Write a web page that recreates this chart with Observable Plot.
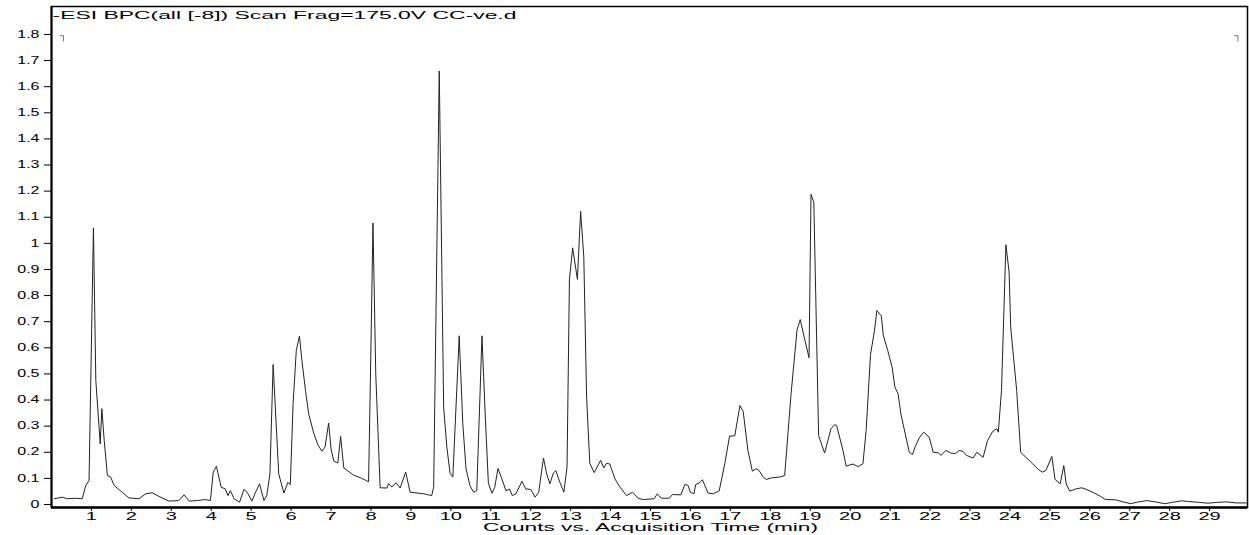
<!DOCTYPE html>
<html>
<head>
<meta charset="utf-8">
<script src="https://cdn.jsdelivr.net/npm/d3@7"></script>
<script src="https://cdn.jsdelivr.net/npm/@observablehq/plot@0.6"></script>
<style>
  html, body { margin: 0; padding: 0; background: #fff; }
  svg { display: block; }
</style>
</head>
<body>
<div id="chart"></div>
<script>
// Acquisition time (min)
const time = [
  0.07, 0.27, 0.40, 0.60, 0.77, 0.86, 0.94, 1.05, 1.11, 1.22, 1.26, 1.32, 1.40, 1.48, 1.57, 1.77, 1.94,
  2.19, 2.36, 2.52, 2.69, 2.94, 3.19, 3.32, 3.45, 3.65, 3.85, 3.98, 4.05, 4.13, 4.25, 4.35, 4.42, 4.48,
  4.57, 4.71, 4.82, 4.90, 5.02, 5.11, 5.21, 5.32, 5.39, 5.47, 5.55, 5.69, 5.82, 5.92, 5.98, 6.05, 6.13,
  6.21, 6.27, 6.36, 6.44, 6.57, 6.67, 6.77, 6.85, 6.94, 7.00, 7.07, 7.17, 7.24, 7.32, 7.45, 7.57, 7.73,
  7.86, 7.94, 7.98, 8.05, 8.12, 8.23, 8.40, 8.44, 8.52, 8.63, 8.73, 8.87, 8.98, 9.10, 9.32, 9.52, 9.57,
  9.71, 9.82, 9.90, 9.98, 10.05, 10.21, 10.30, 10.38, 10.48, 10.57, 10.65, 10.78, 10.86, 10.94, 11.03,
  11.10, 11.18, 11.27, 11.38, 11.47, 11.54, 11.63, 11.78, 11.88, 12.00, 12.11, 12.20, 12.32, 12.40,
  12.48, 12.57, 12.63, 12.73, 12.83, 12.91, 12.97, 13.05, 13.17, 13.25, 13.33, 13.40, 13.48, 13.59,
  13.75, 13.83, 13.90, 13.98, 14.11, 14.22, 14.40, 14.55, 14.69, 14.82, 15.09, 15.17, 15.27, 15.47,
  15.55, 15.76, 15.86, 15.94, 16.00, 16.09, 16.13, 16.22, 16.30, 16.44, 16.57, 16.72, 16.86, 16.98,
  17.11, 17.24, 17.32, 17.44, 17.55, 17.65, 17.72, 17.82, 17.90, 18.03, 18.23, 18.36, 18.52, 18.67,
  18.75, 18.85, 18.97, 19.02, 19.09, 19.21, 19.36, 19.52, 19.61, 19.66, 19.82, 19.90, 20.07, 20.20,
  20.32, 20.40, 20.51, 20.61, 20.67, 20.78, 20.83, 20.94, 21.05, 21.12, 21.20, 21.27, 21.37, 21.48,
  21.56, 21.63, 21.73, 21.84, 21.98, 22.08, 22.21, 22.27, 22.40, 22.52, 22.64, 22.73, 22.83, 22.91,
  23.08, 23.17, 23.33, 23.44, 23.57, 23.67, 23.71, 23.79, 23.90, 23.98, 24.02, 24.17, 24.27, 24.40,
  24.57, 24.69, 24.81, 24.90, 25.05, 25.13, 25.26, 25.35, 25.41, 25.50, 25.66, 25.80, 25.93, 26.10,
  26.27, 26.40, 26.65, 26.81, 27.02, 27.19, 27.43, 27.68, 27.88, 28.09, 28.30, 28.50, 28.75, 28.96,
  29.17, 29.42, 29.67, 29.92
];

// Counts, as labelled on the y axis
const counts = [
  0.022, 0.028, 0.022, 0.024, 0.022, 0.073, 0.092, 1.059, 0.475, 0.232, 0.367, 0.245, 0.111, 0.105, 0.073, 0.047, 0.025,
  0.022, 0.041, 0.045, 0.031, 0.013, 0.015, 0.037, 0.013, 0.015, 0.019, 0.015, 0.124, 0.146, 0.066, 0.060, 0.034, 0.053,
  0.022, 0.009, 0.058, 0.047, 0.013, 0.047, 0.079, 0.015, 0.034, 0.117, 0.536, 0.117, 0.044, 0.085, 0.076, 0.386, 0.590,
  0.645, 0.552, 0.437, 0.347, 0.271, 0.229, 0.204, 0.220, 0.312, 0.213, 0.166, 0.159, 0.261, 0.140, 0.125, 0.112, 0.103,
  0.093, 0.087, 0.424, 1.078, 0.500, 0.064, 0.063, 0.080, 0.067, 0.083, 0.063, 0.124, 0.047, 0.045, 0.041, 0.034, 0.066,
  1.660, 0.373, 0.220, 0.120, 0.105, 0.646, 0.309, 0.137, 0.072, 0.047, 0.053, 0.646, 0.347, 0.082, 0.043,
  0.066, 0.138, 0.102, 0.053, 0.059, 0.034, 0.041, 0.089, 0.059, 0.058, 0.028, 0.047, 0.178, 0.117,
  0.079, 0.121, 0.130, 0.085, 0.047, 0.143, 0.862, 0.983, 0.862, 1.123, 0.948, 0.411, 0.158, 0.122,
  0.169, 0.140, 0.158, 0.155, 0.098, 0.070, 0.034, 0.047, 0.024, 0.019, 0.022, 0.041, 0.024, 0.024,
  0.038, 0.037, 0.077, 0.073, 0.047, 0.041, 0.076, 0.082, 0.095, 0.044, 0.041, 0.052, 0.156, 0.262,
  0.263, 0.379, 0.357, 0.207, 0.128, 0.137, 0.130, 0.105, 0.096, 0.102, 0.105, 0.111, 0.424, 0.669,
  0.708, 0.640, 0.562, 1.188, 1.158, 0.264, 0.197, 0.290, 0.305, 0.303, 0.207, 0.147, 0.155, 0.145,
  0.156, 0.283, 0.575, 0.667, 0.743, 0.722, 0.648, 0.590, 0.526, 0.450, 0.424, 0.347, 0.277, 0.200,
  0.191, 0.222, 0.255, 0.277, 0.258, 0.200, 0.198, 0.188, 0.207, 0.197, 0.195, 0.207, 0.203, 0.188,
  0.178, 0.200, 0.181, 0.245, 0.280, 0.290, 0.277, 0.437, 0.995, 0.890, 0.679, 0.437, 0.200, 0.181,
  0.156, 0.137, 0.124, 0.130, 0.184, 0.096, 0.079, 0.149, 0.079, 0.051, 0.060, 0.064, 0.057, 0.045,
  0.031, 0.019, 0.018, 0.011, 0.003, 0.009, 0.015, 0.009, 0.003, 0.009, 0.014, 0.011, 0.008, 0.005,
  0.008, 0.010, 0.006, 0.006
];

const xTicks = [1, 2, 3, 4, 5, 6, 7, 8, 9, 10, 11, 12, 13, 14, 15, 16, 17, 18, 19, 20, 21, 22, 23, 24, 25, 26, 27, 28, 29];
const yTicks = [0, 0.1, 0.2, 0.3, 0.4, 0.5, 0.6, 0.7, 0.8, 0.9, 1, 1.1, 1.2, 1.3, 1.4, 1.5, 1.6, 1.7, 1.8];
const titleText = "-ESI BPC(all [-8]) Scan Frag=175.0V CC-ve.d";
const xLabelText = "Counts vs. Acquisition Time (min)";
const rangeMarkerTimes = [0.3, 29.71];
const rangeMarkerLevel = 1.795;

const xDomain = [0, 29.95];
const yDomain = [-0.0115, 1.907];

const trace = time.map((t, i) => ({t, v: counts[i]}));

const chart = Plot.plot({
  width: 1249,
  height: 535,
  marginLeft: 51,
  marginRight: 2,
  marginTop: 6,
  marginBottom: 28,
  style: {fontFamily: "'Liberation Sans', Arial, sans-serif", fontSize: "10px", color: "#000", background: "#fff"},
  x: {domain: xDomain, label: null},
  y: {domain: yDomain, label: null},
  marks: [
    Plot.frame({stroke: "#000", strokeWidth: 1.5}),
    Plot.axisX({ticks: xTicks, tickSize: 4, tickPadding: 1, tickFormat: d => String(d), label: null, className: "xax"}),
    Plot.axisY({ticks: yTicks, tickSize: 7, tickPadding: 5, tickFormat: d => String(d), label: null, className: "yax"}),
    Plot.ruleX([xDomain[0]], {stroke: "#000", strokeWidth: 2}),
    Plot.ruleY([yDomain[0]], {stroke: "#000", strokeWidth: 2.5}),
    Plot.link(rangeMarkerTimes, {x1: d => d - 0.1, x2: d => d, y1: rangeMarkerLevel, y2: rangeMarkerLevel, stroke: "#777", strokeWidth: 1}),
    Plot.link(rangeMarkerTimes, {x1: d => d, x2: d => d, y1: rangeMarkerLevel, y2: rangeMarkerLevel - 0.022, stroke: "#777", strokeWidth: 1}),
    Plot.line(trace, {x: "t", y: "v", stroke: "#222", strokeWidth: 1}),
    Plot.text([titleText], {frameAnchor: "top-left", textAnchor: "start", lineAnchor: "top", dx: 1, dy: 5, fill: "#000", fontSize: 10.5, className: "ttl"}),
    Plot.text([xLabelText], {frameAnchor: "bottom", textAnchor: "middle", lineAnchor: "top", dx: 1, dy: 16, fill: "#000", fontSize: 10, className: "xlbl"})
  ]
});

document.getElementById("chart").appendChild(chart);

// The reference uses a horizontally stretched sans-serif; emulate with textLength.
function stretch(selector, factorOrWidth, absolute) {
  chart.querySelectorAll(selector).forEach(t => {
    const w = t.getComputedTextLength();
    if (w > 0) {
      t.setAttribute("textLength", (absolute ? factorOrWidth : w * factorOrWidth).toFixed(2));
      t.setAttribute("lengthAdjust", "spacingAndGlyphs");
    }
  });
}
stretch(".ttl text", 464, true);
stretch(".xlbl text", 335, true);
stretch(".xax text", 2.0, false);
stretch(".yax text", 1.6, false);
</script>
</body>
</html>
